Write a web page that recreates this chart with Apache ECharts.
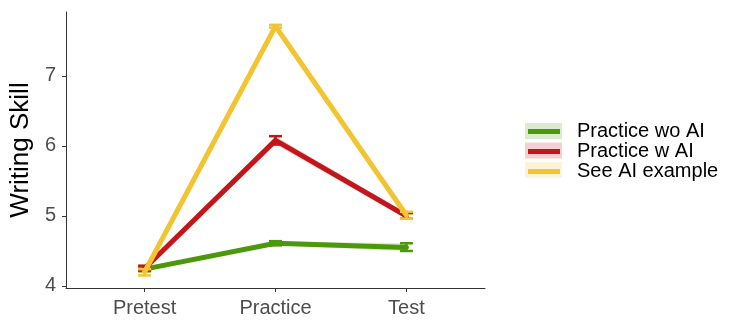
<!DOCTYPE html>
<html>
<head>
	<meta charset="utf-8">
	<title></title>
	<script src="https://cdn.jsdelivr.net/npm/echarts@6/dist/echarts.min.js"></script>
</head>
<body style="margin:0">
	<div id="main" style="width: 747px; height: 332px;"></div>
	<script>
		// data
		var categories = ['Pretest', 'Practice', 'Test']
		var groups = ['Practice wo AI', 'Practice w AI', 'See AI example']
		var colors = ['#4b990b', '#c2161b', '#f3c431']
		var fills = ['rgba(75,153,11,0.2)', 'rgba(194,22,27,0.2)', 'rgba(243,196,49,0.2)']

		var meanWoAI = [4.24, 4.61, 4.55]
		var lowWoAI = [4.21, 4.58, 4.50]
		var highWoAI = [4.27, 4.64, 4.61]

		var meanWAI = [4.25, 6.08, 5.00]
		var lowWAI = [4.22, 6.02, 4.96]
		var highWAI = [4.29, 6.14, 5.04]

		var meanSee = [4.20, 7.71, 5.01]
		var lowSee = [4.15, 7.69, 4.96]
		var highSee = [4.24, 7.73, 5.06]

		var yTicks = [4, 5, 6, 7]

		var means = [meanWoAI, meanWAI, meanSee]
		var lows = [lowWoAI, lowWAI, lowSee]
		var highs = [highWoAI, highWAI, highSee]

		var chart = echarts.init(document.getElementById('main'))

		var series = []
		groups.forEach(function (g, k) {
			// ribbon
			series.push({
				type: 'custom',
				name: g + ' band',
				z: 2 + k * 3,
				silent: true,
				data: [0],
				renderItem: function (params, api) {
					var pts = []
					for (var i = 0; i < categories.length; i++) pts.push(api.coord([i, highs[k][i]]))
					for (var i = categories.length - 1; i >= 0; i--) pts.push(api.coord([i, lows[k][i]]))
					return { type: 'polygon', shape: { points: pts }, style: { fill: fills[k] } }
				}
			})
			// mean line
			series.push({
				type: 'line',
				name: g,
				z: 3 + k * 3,
				symbol: 'none',
				color: colors[k],
				lineStyle: { width: 5, color: colors[k], cap: 'round', join: 'round' },
				data: means[k].map(function (v, i) { return [i, v] })
			})
			// error bars
			series.push({
				type: 'custom',
				name: g + ' err',
				z: 4 + k * 3,
				silent: true,
				data: categories.map(function (c, i) { return [i, lows[k][i], highs[k][i]] }),
				renderItem: function (params, api) {
					var lo = api.coord([api.value(0), api.value(1)])
					var hi = api.coord([api.value(0), api.value(2)])
					var hw = 6.5
					var st = { stroke: colors[k], lineWidth: 2.5, fill: null }
					return {
						type: 'group',
						children: [
							{ type: 'line', shape: { x1: lo[0], y1: lo[1], x2: hi[0], y2: hi[1] }, style: st },
							{ type: 'line', shape: { x1: lo[0] - hw, y1: lo[1], x2: lo[0] + hw, y2: lo[1] }, style: st },
							{ type: 'line', shape: { x1: hi[0] - hw, y1: hi[1], x2: hi[0] + hw, y2: hi[1] }, style: st }
						]
					}
				}
			})
		})

		var opt = {
			animation: false,
			grid: { left: 66, right: 262, top: 12, bottom: 44 },
			xAxis: {
				type: 'value',
				min: -0.6,
				max: 2.6,
				splitLine: { show: false },
				axisLine: { show: true, onZero: false, lineStyle: { color: '#333', width: 1 } },
				axisTick: { show: true, length: 4, customValues: [0, 1, 2], lineStyle: { color: '#333' } },
				axisLabel: {
					customValues: [0, 1, 2],
					formatter: function (v) { return categories[Math.round(v)] },
					color: '#4d4d4d', fontSize: 20, fontFamily: 'Liberation Sans', margin: 10
				}
			},
			yAxis: {
				type: 'value',
				min: 3.971,
				max: 7.914,
				name: 'Writing Skill',
				nameLocation: 'middle',
				nameGap: 30,
				nameTextStyle: { color: '#000', fontSize: 26, fontFamily: 'Liberation Sans' },
				splitLine: { show: false },
				axisLine: { show: true, onZero: false, lineStyle: { color: '#333', width: 1 } },
				axisTick: { show: true, length: 4, customValues: yTicks, lineStyle: { color: '#333' } },
				axisLabel: {
					customValues: yTicks,
					color: '#4d4d4d', fontSize: 20, fontFamily: 'Liberation Sans', margin: 10
				}
			},
			legend: {
				data: groups,
				orient: 'vertical',
				left: 528,
				top: 121.5,
				padding: 0,
				itemGap: 0,
				itemWidth: 32,
				itemHeight: 5,
				icon: 'rect',
				selectedMode: false,
				textStyle: { color: '#000', fontSize: 20, fontFamily: 'Liberation Sans', lineHeight: 19.5, padding: [0, 0, 0, 12] }
			},
			graphic: groups.map(function (g, k) {
				return {
					type: 'rect', left: 525, top: 123 + k * 19.5, z: -1,
					shape: { width: 37, height: 16 },
					style: { fill: fills[k] }
				}
			}),
			series: series
		}

		chart.setOption(opt)
	</script>
</body>
</html>
